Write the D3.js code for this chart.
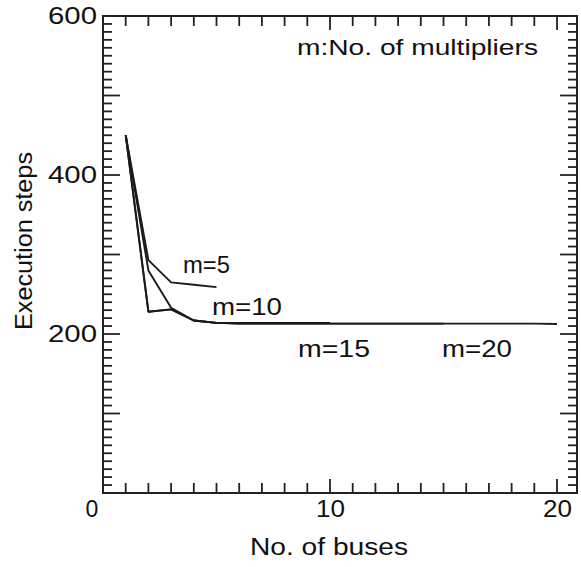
<html>
<head>
  <script src="https://d3js.org/d3.v7.min.js"></script>
  <style>
    body { margin: 0; background: #fff; }
    text { font-family: "Liberation Sans", Arial, sans-serif; fill: #111; }
    .frame { fill: none; stroke: #222; stroke-width: 2px; }
    .curve { fill: none; stroke: #1a1a1a; stroke-width: 1.9px; stroke-linejoin: round; }
  </style>
</head>
<body>
  <svg id="chart" width="581" height="567"></svg>
  <script>
    // number of buses (x) and execution steps for each multiplier count
    const buses = [1, 2, 3, 4, 5, 6, 7, 8, 9, 10, 11, 12, 13, 14, 15, 16, 17, 18, 19, 20];
    const steps_m5 = [450, 293, 265, 262, 259];
    const steps_m10 = [450, 280, 233, 217, 214, 214, 214, 214, 214, 214];
    const steps_m15 = [450, 228, 231, 217, 214, 213, 213, 213, 213, 213, 213, 213, 213, 213, 213];
    const steps_m20 = [450, 228, 231, 217, 214, 213, 213, 213, 213, 213, 213, 213, 213, 213, 213, 213, 213, 213, 213, 212.5];
    const seriesNames = ["m=5", "m=10", "m=15", "m=20"];
    const xTickLabels = [10, 20];
    const yTickLabels = [200, 400, 600];

    const createVis = function() {
      const svg = d3.select("#chart");
      const margin = { left: 103, right: 577, top: 16, bottom: 493 };

      // x domain runs a bit past 20, the frame is wider than the last tick
      let xScale = d3.scaleLinear().domain([0, 20.88]).range([margin.left, margin.right]);
      let yScale = d3.scaleLinear().domain([0, 600]).range([margin.bottom, margin.top]);

      let annotations = svg.append("g").attr("id", "annotations");

      // frame
      annotations.append("rect")
        .attr("class", "frame")
        .attr("x", margin.left).attr("y", margin.top)
        .attr("width", margin.right - margin.left).attr("height", margin.bottom - margin.top);

      // tick labels
      let yLabels = annotations.append("g")
        .attr("transform", `translate(${margin.left},0)`)
        .call(d3.axisLeft(yScale).tickValues(yTickLabels).tickSize(0).tickPadding(6));
      yLabels.select(".domain").remove();
      yLabels.selectAll("text")
        .style("font-size", "23px")
        .attr("textLength", 49)
        .attr("lengthAdjust", "spacingAndGlyphs");

      let xLabels = annotations.append("g")
        .attr("transform", `translate(0,${margin.bottom})`)
        .call(d3.axisBottom(xScale).tickValues(xTickLabels).tickSize(0).tickPadding(8));
      xLabels.select(".domain").remove();
      xLabels.selectAll("text")
        .style("font-size", "23px")
        .attr("textLength", 29)
        .attr("lengthAdjust", "spacingAndGlyphs");

      annotations.append("text")
        .attr("x", 92).attr("y", 517)
        .attr("text-anchor", "middle")
        .style("font-size", "23px")
        .text("0");

      // axis titles
      annotations.append("text")
        .attr("x", 329).attr("y", 555)
        .attr("text-anchor", "middle")
        .attr("textLength", 158).attr("lengthAdjust", "spacingAndGlyphs")
        .style("font-size", "23px")
        .text("No. of buses");

      annotations.append("text")
        .attr("transform", "translate(32,241) rotate(-90)")
        .attr("text-anchor", "middle")
        .attr("textLength", 178).attr("lengthAdjust", "spacingAndGlyphs")
        .style("font-size", "23px")
        .text("Execution steps");

      annotations.append("text")
        .attr("x", 297).attr("y", 55)
        .attr("textLength", 241).attr("lengthAdjust", "spacingAndGlyphs")
        .style("font-size", "22px")
        .text("m:No. of multipliers");

      // tick marks on all four sides, pointing inward; longer at 10s (x) and 100s (y)
      let xTicks = [];
      for (let i = 1; i <= 20; i++) xTicks.push({ v: i, len: i % 10 == 0 ? 14 : 10 });
      let yTicks = [];
      for (let v = 10; v < 600; v += 10) yTicks.push({ v: v, len: v % 100 == 0 ? 17 : 9 });

      let tickArea = svg.append("g").attr("id", "tickmarks")
        .attr("stroke", "#222").attr("stroke-width", 1.8);
      tickArea.selectAll("line.xb").data(xTicks).join("line")
        .attr("class", "xb")
        .attr("x1", d => xScale(d.v)).attr("x2", d => xScale(d.v))
        .attr("y1", margin.bottom).attr("y2", d => margin.bottom - d.len);
      tickArea.selectAll("line.xt").data(xTicks).join("line")
        .attr("class", "xt")
        .attr("x1", d => xScale(d.v)).attr("x2", d => xScale(d.v))
        .attr("y1", margin.top).attr("y2", d => margin.top + d.len);
      tickArea.selectAll("line.yl").data(yTicks).join("line")
        .attr("class", "yl")
        .attr("y1", d => yScale(d.v)).attr("y2", d => yScale(d.v))
        .attr("x1", margin.left).attr("x2", d => margin.left + d.len);
      tickArea.selectAll("line.yr").data(yTicks).join("line")
        .attr("class", "yr")
        .attr("y1", d => yScale(d.v)).attr("y2", d => yScale(d.v))
        .attr("x1", margin.right).attr("x2", d => margin.right - d.len);

      // curves
      let chartArea = svg.append("g").attr("id", "lines");
      let line = d3.line().x((d, i) => xScale(buses[i])).y(d => yScale(d));
      [steps_m20, steps_m15, steps_m10, steps_m5].forEach(s => {
        chartArea.append("path").attr("class", "curve").attr("d", line(s));
      });

      // curve labels
      const labelSpots = [
        { x: 183, y: 273, w: 47 },
        { x: 212, y: 315, w: 70 },
        { x: 298, y: 357, w: 72 },
        { x: 442, y: 357, w: 70 }
      ];
      seriesNames.forEach((name, i) => {
        chartArea.append("text")
          .attr("x", labelSpots[i].x).attr("y", labelSpots[i].y)
          .attr("textLength", labelSpots[i].w).attr("lengthAdjust", "spacingAndGlyphs")
          .style("font-size", "23px")
          .text(name);
      });
    }
    createVis();
  </script>
</body>
</html>
